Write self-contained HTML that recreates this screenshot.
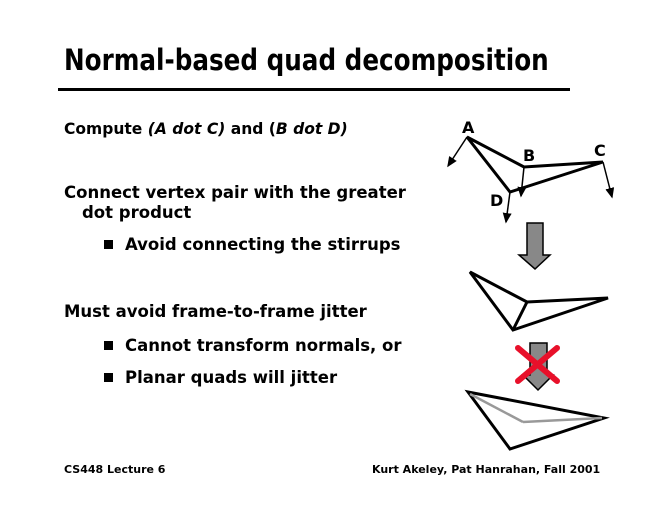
<!DOCTYPE html>
<html><head><style>
body{margin:0;width:660px;height:510px;background:#fff;position:relative;font-family:"DejaVu Sans","Liberation Sans",sans-serif;font-weight:bold;color:#000;overflow:hidden}
.t{position:absolute;white-space:nowrap}
</style></head><body>
<div class="t" style="left:64px;top:43px;font-size:29px;transform:scaleX(0.85);transform-origin:0 0">Normal-based quad decomposition</div>
<div style="position:absolute;left:58px;top:88px;width:512px;height:3px;background:#000"></div>
<div class="t" style="left:64px;top:119px;font-size:16px;transform:scaleX(0.97);transform-origin:0 0">Compute <i>(A dot C)</i> and (<i>B dot D)</i></div>
<div class="t" style="left:64px;top:183px;font-size:16.5px">Connect vertex pair with the greater</div>
<div class="t" style="left:82px;top:203px;font-size:16.5px">dot product</div>
<div class="t" style="left:104px;top:235px;font-size:16.5px"><span style="display:inline-block;width:9px;height:9px;background:#000;margin-right:12px;vertical-align:1px"></span>Avoid connecting the stirrups</div>
<div class="t" style="left:64px;top:302px;font-size:16.5px">Must avoid frame-to-frame jitter</div>
<div class="t" style="left:104px;top:336px;font-size:16.5px"><span style="display:inline-block;width:9px;height:9px;background:#000;margin-right:12px;vertical-align:1px"></span>Cannot transform normals, or</div>
<div class="t" style="left:104px;top:368px;font-size:16.5px"><span style="display:inline-block;width:9px;height:9px;background:#000;margin-right:12px;vertical-align:1px"></span>Planar quads will jitter</div>
<div class="t" style="left:64px;top:463px;font-size:11px">CS448 Lecture 6</div>
<div class="t" style="left:372px;top:463px;font-size:11px">Kurt Akeley, Pat Hanrahan, Fall 2001</div>
<svg width="660" height="510" style="position:absolute;left:0;top:0">
<defs><marker id="ah" markerWidth="8" markerHeight="8" refX="6" refY="3" orient="auto"><path d="M0,0 L7,3 L0,6 Z" fill="#000"/></marker></defs>
<g font-family="DejaVu Sans, sans-serif" font-weight="bold" font-size="16">
<text x="462" y="133">A</text><text x="523" y="161">B</text><text x="594" y="156">C</text><text x="490" y="206">D</text>
</g>
<g stroke="#000" stroke-width="1.5" marker-end="url(#ah)">
<line x1="467" y1="137" x2="448" y2="166"/><line x1="524" y1="167" x2="521" y2="196"/>
<line x1="603" y1="162" x2="612" y2="197"/><line x1="510" y1="192" x2="506" y2="222"/>
</g>
<g stroke="#000" stroke-width="3" fill="none" stroke-linejoin="miter">
<polygon points="467,137 524,167 603,162 510,192"/>
<polygon points="470,272 527,302 608,298 513,330"/><line x1="527" y1="302" x2="513" y2="330"/>
<polygon points="468,392 604,418 510,449"/>
</g>
<line x1="470" y1="394" x2="523" y2="422" stroke="#999" stroke-width="2.5"/>
<line x1="523" y1="422" x2="602" y2="418" stroke="#999" stroke-width="2.5"/>
<path d="M527,223 H543 V255 H550 L535,269 L519,255 H527 Z" fill="#888" stroke="#000" stroke-width="1.5"/>
<path d="M530,343 H547 V375 H553 L538,390 L523,375 H530 Z" fill="#888" stroke="#000" stroke-width="1.5"/>
<g stroke="#e8102a" stroke-width="6" stroke-linecap="round">
<line x1="518" y1="348" x2="557" y2="381"/><line x1="557" y1="348" x2="518" y2="381"/>
</g>
</svg>
</body></html>
